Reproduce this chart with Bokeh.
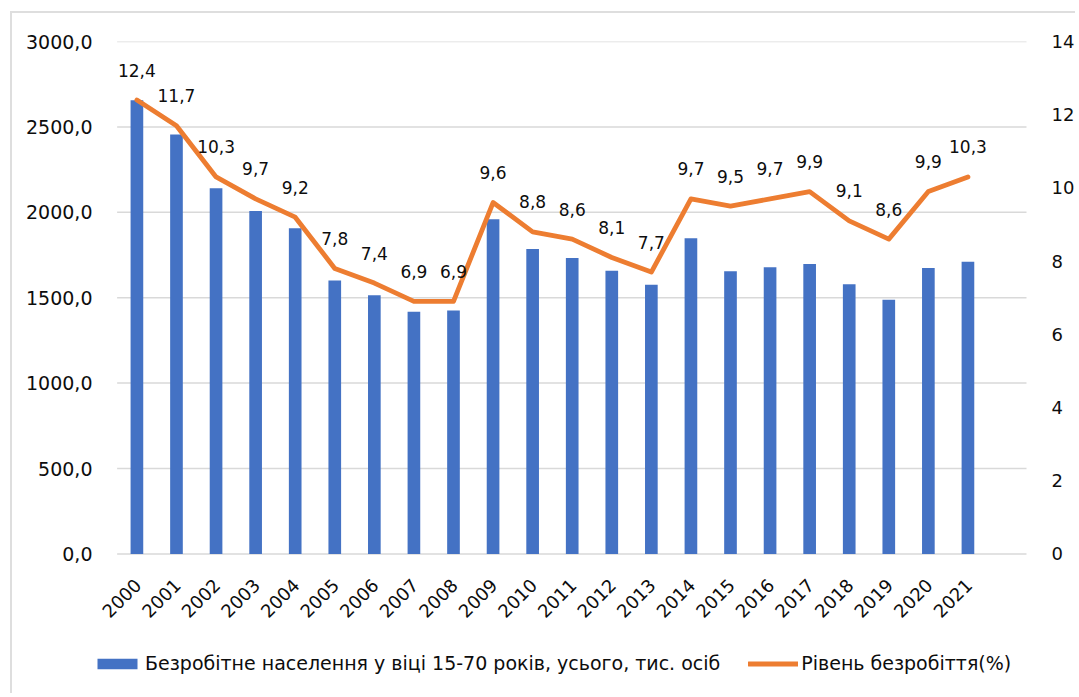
import math
from bokeh.plotting import figure
from bokeh.models import (ColumnDataSource, Range1d, LinearAxis, FixedTicker,
                          Legend, LegendItem)
from bokeh.core.properties import value
from bokeh.embed import file_html
from bokeh.resources import INLINE

years = ["2000", "2001", "2002", "2003", "2004", "2005", "2006", "2007", "2008",
         "2009", "2010", "2011", "2012", "2013", "2014", "2015", "2016", "2017",
         "2018", "2019", "2020", "2021"]
unemployed = [2655.8, 2455.0, 2140.7, 2008.0, 1906.7, 1600.8, 1515.0, 1417.6,
              1425.1, 1958.8, 1785.6, 1732.7, 1657.2, 1576.5, 1847.6, 1654.7,
              1678.2, 1698.0, 1578.6, 1487.7, 1674.2, 1711.0]
rate = [12.4, 11.7, 10.3, 9.7, 9.2, 7.8, 7.4, 6.9, 6.9, 9.6, 8.8, 8.6, 8.1,
        7.7, 9.7, 9.5, 9.7, 9.9, 9.1, 8.6, 9.9, 10.3]
rate_labels = [f"{v:.1f}".replace(".", ",") for v in rate]
left_ticks = [0, 500, 1000, 1500, 2000, 2500, 3000]
left_tick_labels = ["0,0", "500,0", "1000,0", "1500,0", "2000,0", "2500,0", "3000,0"]
right_ticks = [0, 2, 4, 6, 8, 10, 12, 14]
bar_name = "Безробітне населення у віці 15-70 років, усього, тис. осіб"
line_name = "Рівень безробіття(%)"

FONT = "DejaVu Sans"
BLUE = "#4472C4"
ORANGE = "#ED7D31"
GRID = "#d9d9d9"
TXT = "#0d0d0d"

# layout (page pixels)
FR_L, FR_R, FR_T, FR_B = 92, 1029, 41, 693     # frame
CAT_L = 116.7                                   # left edge of first category slot
SLOT = 39.7                                     # category slot width
Y0_PX = 555                                     # pixel of value 0
Y_MAX = 3000
R_MAX = 14
px_per_unit = (Y0_PX - FR_T) / Y_MAX

x_start = -0.5 - (CAT_L - FR_L) / SLOT
x_end = x_start + (FR_R - FR_L) / SLOT
y_start = -(FR_B - Y0_PX) / px_per_unit
r_start = y_start * R_MAX / Y_MAX

xs = list(range(len(years)))
src = ColumnDataSource(dict(x=xs, u=unemployed, r=rate, lab=rate_labels,
                            yr=years, zero=[0] * len(years)))

ML, MT, BW = 10, 11, 2
W = 1079 - ML - 2 * BW
H = 697 - MT - 2 * BW
p = figure(width=W, height=H, output_backend="svg", toolbar_location=None,
           x_range=Range1d(x_start, x_end), y_range=Range1d(y_start, Y_MAX),
           x_axis_location=None,
           min_border_left=FR_L - ML - BW, min_border_right=1079 - FR_R,
           min_border_top=FR_T - MT - BW, min_border_bottom=697 - FR_B)
p.margin = (MT, 0, 0, ML)
p.styles = {"border-left": f"{BW}px solid #dedede", "border-top": f"{BW}px solid #dedede"}
p.outline_line_color = None
p.extra_y_ranges = {"rate": Range1d(r_start, R_MAX)}
p.xgrid.grid_line_color = None
p.ygrid.grid_line_color = None

# horizontal gridlines over the category span
p.segment(x0=-0.5, x1=len(years) + 0.5, y0=left_ticks, y1=left_ticks,
          line_color=GRID, line_width=1.5)

bars = p.vbar(x="x", top="u", width=0.32, source=src, fill_color=BLUE,
              line_color=None)
line = p.line(x="x", y="r", source=src, y_range_name="rate", line_color=ORANGE,
              line_width=4.8, line_cap="round", line_join="round")
p.text(x="x", y="r", text="lab", source=src, y_range_name="rate",
       text_align="center", text_baseline="middle", y_offset=-30,
       text_font=value(FONT), text_font_size="17px", text_color=TXT)

# category labels (rotated)
p.text(x="x", y="zero", text="yr", source=src, angle=math.pi / 4,
       text_align="right", text_baseline="middle", x_offset=1, y_offset=28,
       text_font=value(FONT), text_font_size="18px", text_color=TXT)

# left axis
ya = p.yaxis[0]
ya.ticker = FixedTicker(ticks=left_ticks)
ya.major_label_overrides = {t: l for t, l in zip(left_ticks, left_tick_labels)}
ya.axis_line_color = None
ya.major_tick_line_color = None
ya.minor_tick_line_color = None
ya.major_tick_out = 0
ya.major_tick_in = 0
ya.major_label_standoff = 0
ya.major_label_text_font = FONT
ya.major_label_text_font_size = "19px"
ya.major_label_text_color = TXT

# right axis
ra = LinearAxis(y_range_name="rate", ticker=FixedTicker(ticks=right_ticks))
ra.axis_line_color = None
ra.major_tick_line_color = None
ra.minor_tick_line_color = None
ra.major_tick_out = 0
ra.major_tick_in = 0
ra.major_label_standoff = 25
ra.major_label_text_font = FONT
ra.major_label_text_font_size = "18px"
ra.major_label_text_color = TXT
p.add_layout(ra, "right")

legend = Legend(items=[LegendItem(label=bar_name, renderers=[bars]),
                       LegendItem(label=line_name, renderers=[line])],
                location=(0, 17), orientation="horizontal")
legend.padding = 0
legend.margin = 0
legend.spacing = 28
legend.label_standoff = 3
legend.glyph_width = 50
legend.glyph_height = 13
legend.label_text_font = FONT
legend.label_text_font_size = "19px"
legend.label_text_color = TXT
legend.background_fill_alpha = 0
legend.border_line_color = None
p.add_layout(legend, "center")

open("out.html", "w").write(file_html(p, INLINE))
